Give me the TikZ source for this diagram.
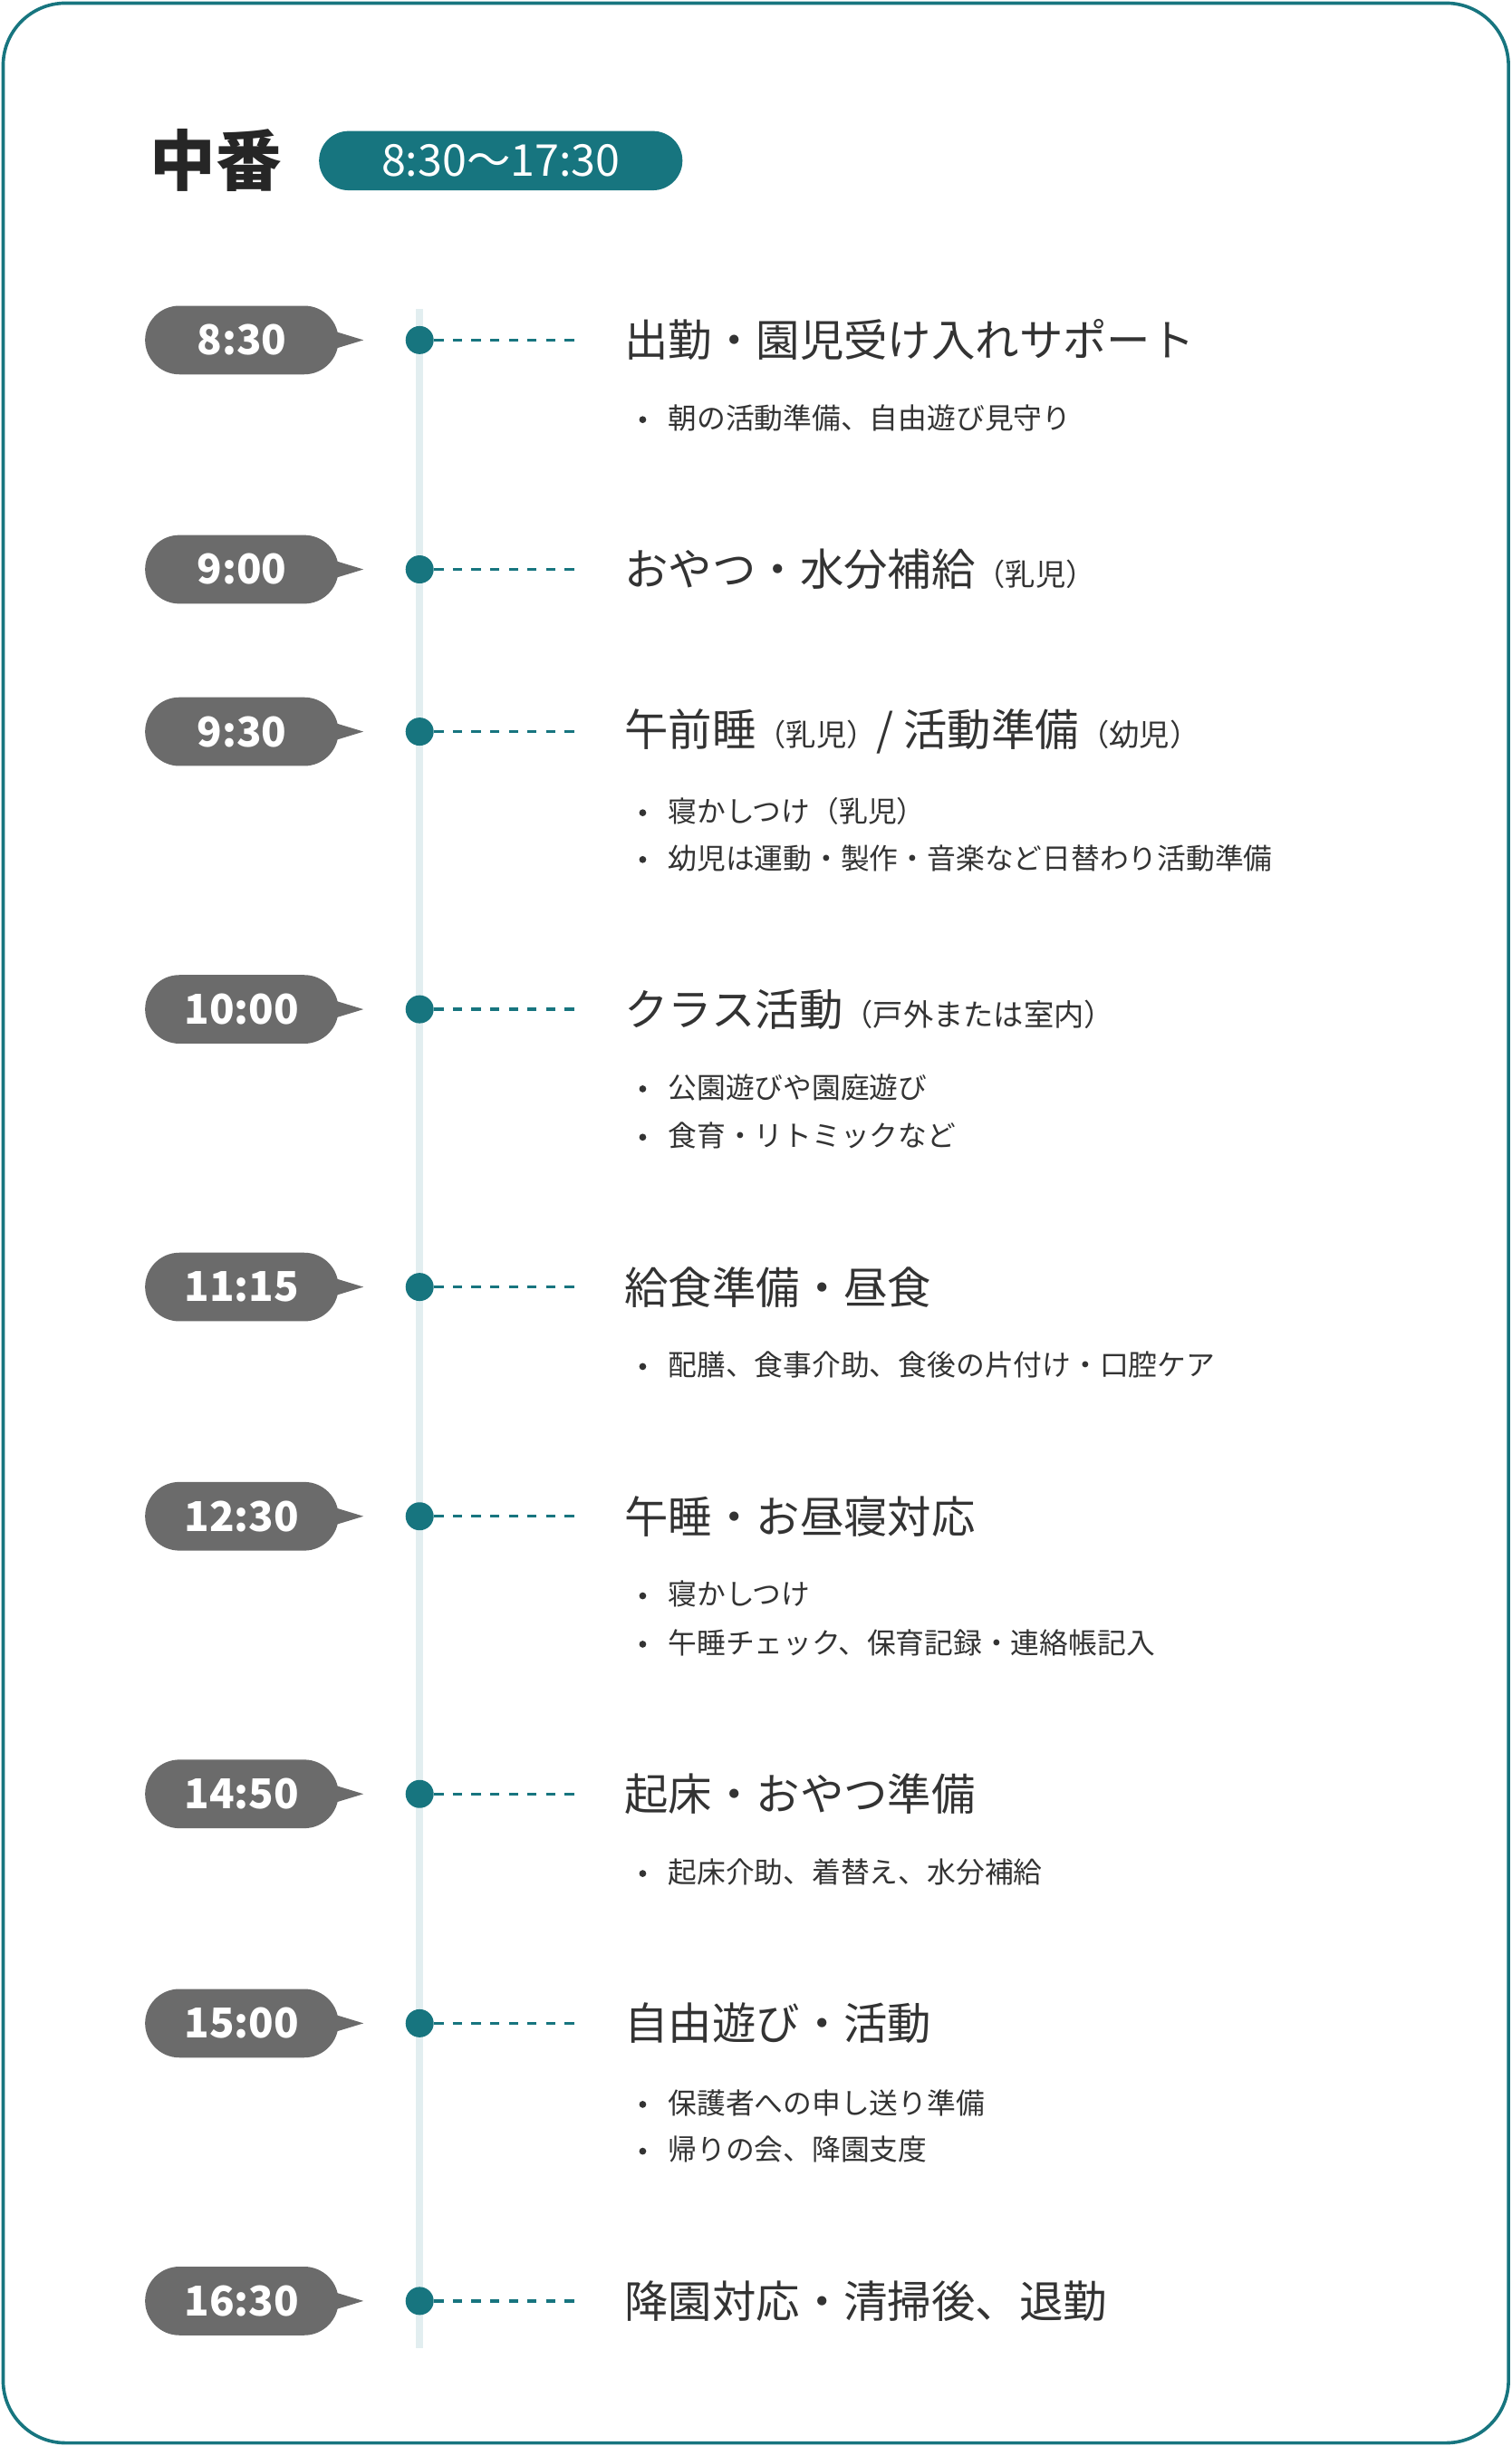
\documentclass[tikz,border=0pt]{standalone}
\usepackage{fontspec}
\setmainfont{Noto Sans CJK JP}
\usetikzlibrary{positioning}
\definecolor{teal}{RGB}{23, 117, 127}
\definecolor{bubble}{RGB}{107, 107, 107}
\definecolor{rail}{RGB}{226, 238, 240}
\definecolor{ink}{RGB}{51, 51, 51}
\tikzset{
	timebox/.style={fill=bubble, text=white, rounded corners=0.44cm, minimum width=2.48cm, minimum height=0.88cm, font=\fontsize{15}{15}\selectfont\bfseries, inner sep=0pt},
	dot/.style={circle, fill=teal, minimum size=0.36cm, inner sep=0pt},
	link/.style={teal, line width=1.1pt, dash pattern=on 3.4pt off 3.4pt},
	heading/.style={anchor=west, text=ink, inner sep=0pt, font=\fontsize{16}{16}\selectfont},
	item/.style={anchor=west, text=ink, inner sep=0pt, font=\fontsize{10.5}{10.5}\selectfont},
	bull/.style={circle, fill=ink, minimum size=0.09cm, inner sep=0pt},
}
\newcommand{\sm}[1]{{\fontsize{11}{11}\selectfont #1}}
\begin{document}
\begin{tikzpicture}[x=0.02cm, y=-0.02cm]
	\useasboundingbox (0, 0) rectangle (969, 1568);
	\draw [teal, line width=1.2pt, rounded corners=0.8cm] (2, 2) rectangle (967, 1566);
	% title
	\node [anchor=west, text=black!85, inner sep=0pt, font=\fontsize{24}{24}\selectfont\bfseries] (title) at (96, 103) {中番};
	\node [fill=teal, text=white, rounded corners=0.38cm, minimum width=4.66cm, minimum height=0.76cm, inner sep=0pt, font=\fontsize{16}{16}\selectfont] (shift) at (321, 103) {8:30〜17:30};
	% rail
	\draw [rail, line width=2.8pt] (269, 198) -- (269, 1505);
	% slots
	\foreach \n/\y/\t in {1/218/8:30, 2/365/9:00, 3/469/9:30, 4/647/10:00, 5/825/11:15, 6/972/12:30, 7/1150/14:50, 8/1297/15:00, 9/1475/16:30}{
		\fill [bubble] (210, \y-7) -- (233, \y) -- (210, \y+7) -- cycle;
		\node [timebox] (time\n) at (155, \y) {\t};
		\node [dot] (dot\n) at (269, \y) {};
		\coordinate (end\n) at (373, \y);
		\draw [link] (dot\n.east) -- (end\n);
	}
	% texts
	\node [heading] (h1) at (400, 218) {出勤・園児受け入れサポート};
	\node [bull] at (412, 269) {}; \node [item] at (428, 268) {朝の活動準備、自由遊び見守り};
	\node [heading] (h2) at (400, 365) {おやつ・水分補給\sm{（乳児）}};
	\node [heading] (h3) at (400, 469) {午前睡\sm{（乳児）}/ 活動準備\sm{（幼児）}};
	\node [bull] at (412, 521) {}; \node [item] at (428, 520) {寝かしつけ（乳児）};
	\node [bull] at (412, 551) {}; \node [item] at (428, 550) {幼児は運動・製作・音楽など日替わり活動準備};
	\node [heading] (h4) at (400, 647) {クラス活動\sm{（戸外または室内）}};
	\node [bull] at (412, 698) {}; \node [item] at (428, 697) {公園遊びや園庭遊び};
	\node [bull] at (412, 729) {}; \node [item] at (428, 728) {食育・リトミックなど};
	\node [heading] (h5) at (400, 825) {給食準備・昼食};
	\node [bull] at (412, 876) {}; \node [item] at (428, 875) {配膳、食事介助、食後の片付け・口腔ケア};
	\node [heading] (h6) at (400, 972) {午睡・お昼寝対応};
	\node [bull] at (412, 1023) {}; \node [item] at (428, 1022) {寝かしつけ};
	\node [bull] at (412, 1054) {}; \node [item] at (428, 1053) {午睡チェック、保育記録・連絡帳記入};
	\node [heading] (h7) at (400, 1150) {起床・おやつ準備};
	\node [bull] at (412, 1201) {}; \node [item] at (428, 1200) {起床介助、着替え、水分補給};
	\node [heading] (h8) at (400, 1297) {自由遊び・活動};
	\node [bull] at (412, 1349) {}; \node [item] at (428, 1348) {保護者への申し送り準備};
	\node [bull] at (412, 1379) {}; \node [item] at (428, 1378) {帰りの会、降園支度};
	\node [heading] (h9) at (400, 1475) {降園対応・清掃後、退勤};
\end{tikzpicture}
\end{document}
